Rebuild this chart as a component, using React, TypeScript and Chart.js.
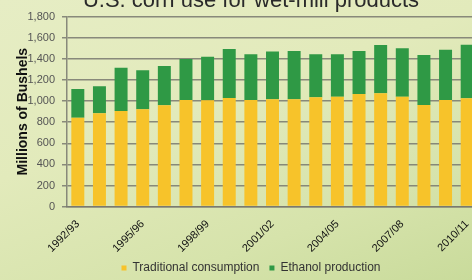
import React, { useEffect, useRef } from "react";
import { Chart, registerables } from "chart.js";

Chart.register(...registerables);

const titleText = "U.S. corn use for wet-mill products";
const yAxisTitle = "Millions of Bushels";
const categories = [
  "1992/93", "1993/94", "1994/95", "1995/96", "1996/97", "1997/98", "1998/99",
  "1999/00", "2000/01", "2001/02", "2002/03", "2003/04", "2004/05", "2005/06",
  "2006/07", "2007/08", "2008/09", "2009/10", "2010/11",
];
const shownLabels = ["1992/93", "1995/96", "1998/99", "2001/02", "2004/05", "2007/08", "2010/11"];
const traditional = [843, 884, 906, 922, 960, 1010, 1007, 1029, 1010, 1017, 1017, 1036, 1042, 1067, 1074, 1042, 963, 1010, 1027];
const ethanol = [272, 256, 411, 370, 373, 389, 414, 465, 434, 452, 458, 408, 402, 408, 458, 459, 474, 477, 508];
const seriesNames = ["Traditional consumption", "Ethanol production"];
const yMin = 0;
const yMax = 1800;
const yStep = 200;

const FONT = "'Liberation Sans', Arial, sans-serif";

export default function App() {
  const ref = useRef<HTMLCanvasElement | null>(null);

  useEffect(() => {
    if (!ref.current) return;
    const chart = new Chart(ref.current, {
      type: "bar",
      data: {
        labels: categories,
        datasets: [
          {
            label: seriesNames[0],
            data: traditional,
            backgroundColor: "#f7c32a",
            barPercentage: 0.6,
            categoryPercentage: 1.0,
          },
          {
            label: seriesNames[1],
            data: ethanol,
            backgroundColor: "#2f9945",
            barPercentage: 0.6,
            categoryPercentage: 1.0,
          },
        ],
      },
      options: {
        responsive: false,
        animation: false,
        layout: { padding: 0 },
        plugins: {
          title: {
            display: true,
            text: titleText,
            color: "#2a2a2a",
            font: { family: FONT, size: 22, weight: "normal", lineHeight: 1.2 },
            padding: { top: 7.3, bottom: 3.0 },
          },
          legend: {
            position: "bottom",
            labels: {
              boxWidth: 5,
              boxHeight: 5,
              padding: 10,
              color: "#333333",
              font: { family: FONT, size: 12 },
            },
          },
          tooltip: { enabled: false },
        },
        scales: {
          x: {
            stacked: true,
            grid: { display: false },
            border: { display: true, color: "rgba(120,120,110,0.85)", width: 1.5 },
            ticks: {
              autoSkip: false,
              maxRotation: 45,
              minRotation: 45,
              padding: 3,
              color: "#111111",
              font: { family: FONT, size: 11 },
              callback: (_v: any, i: number) =>
                shownLabels.includes(categories[i]) ? categories[i] : "",
            },
            afterFit: (s: any) => {
              s.height = 45.4;
            },
          },
          y: {
            stacked: true,
            min: yMin,
            max: yMax,
            grid: {
              color: "rgba(120,120,110,0.85)",
              lineWidth: 1.5,
              tickLength: 5,
            },
            border: { display: true, color: "rgba(120,120,110,0.85)", width: 1.5 },
            ticks: {
              stepSize: yStep,
              padding: 7,
              color: "#555555",
              font: { family: FONT, size: 11 },
              callback: (v: any) => Number(v).toLocaleString("en-US"),
            },
            title: {
              display: true,
              text: yAxisTitle,
              color: "#111111",
              font: { family: FONT, size: 14, weight: "bold" },
              padding: { top: 15, bottom: 0 },
            },
            afterFit: (s: any) => {
              s.width = 67;
            },
          },
          y2: {
            type: "linear",
            position: "right",
            display: true,
            grid: { display: false },
            border: { display: false },
            ticks: { display: false },
            afterFit: (s: any) => {
              s.width = 24;
            },
          },
        },
      },
    });
    return () => chart.destroy();
  }, []);

  return (
    <div
      style={{
        position: "fixed",
        left: 0,
        top: 0,
        width: 472,
        height: 280,
        overflow: "hidden",
        background:
          "linear-gradient(160deg, #e6edc4 0%, #e2eabb 40%, #d6e3ab 75%, #c9db9b 100%)",
      }}
    >
      <canvas
        ref={ref}
        width={502}
        height={304}
        style={{ position: "absolute", left: 0, top: -20, width: 502, height: 304 }}
      />
    </div>
  );
}
